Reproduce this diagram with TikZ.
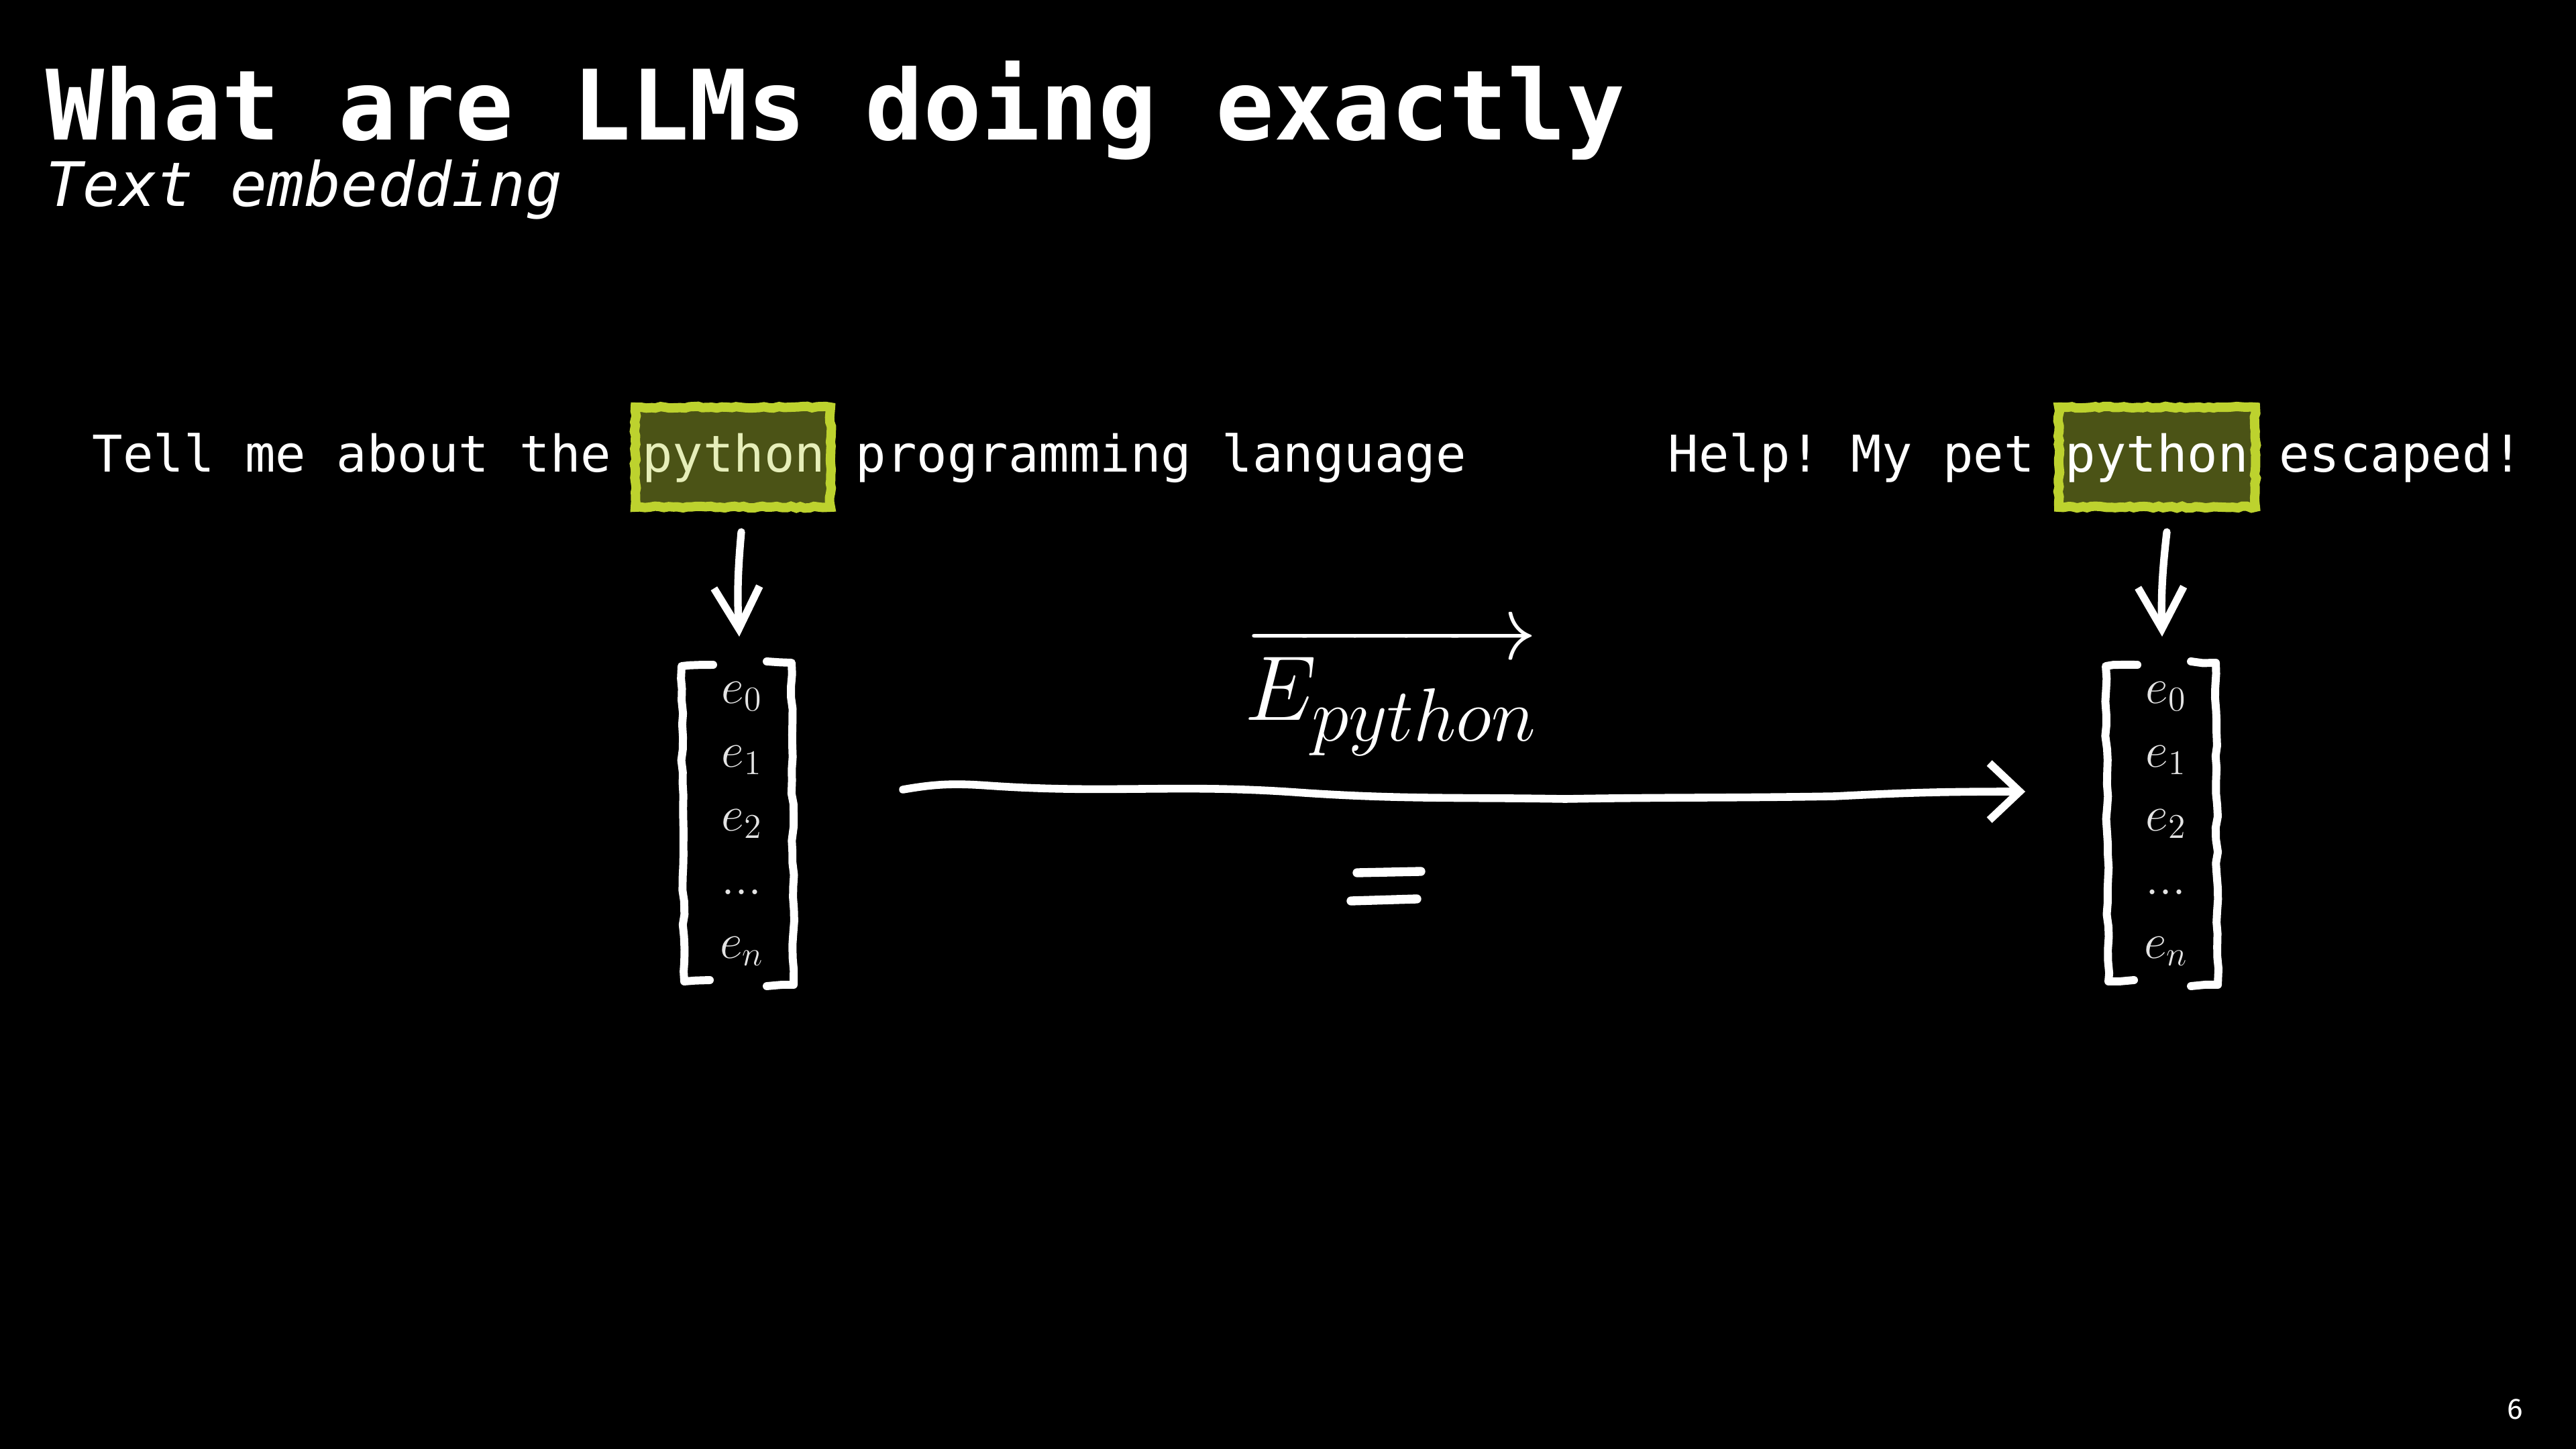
\documentclass[tikz,border=0pt]{standalone}
\usepackage{fix-cm}
\usepackage{fontspec}
\newfontfamily\monof{DejaVu Sans Mono}
\newfontfamily\numf{Fira Sans}
\usetikzlibrary{arrows.meta,calc,decorations.pathmorphing}
\frenchspacing
\definecolor{limeb}{RGB}{189,210,46}
\definecolor{olivef}{RGB}{75,83,22}
\definecolor{palepy}{RGB}{230,238,185}
\definecolor{vecgray}{RGB}{228,228,228}
\tikzset{
  sent/.style={text=white, font=\monof\fontsize{21.5}{26}\selectfont, inner sep=0pt, anchor=base west},
  pybox/.style={draw=limeb, fill=olivef, line width=0.14cm, minimum height=1.49cm, inner sep=0pt,
     decorate, decoration={random steps, segment length=2pt, amplitude=0.4pt}},
  hand/.style={draw=white, line width=3pt, line cap=round, line join=round},
  downarrow/.style={hand, line width=3.2pt, -{Straight Barb[length=0.62cm,width=0.68cm]}},
  bigarrow/.style={hand, line width=3.3pt, -{Straight Barb[length=0.45cm,width=0.85cm]}},
  brk/.style={hand, line width=3.4pt, decorate, decoration={random steps, segment length=5pt, amplitude=0.5pt}},
  vecent/.style={text=vecgray, font=\fontsize{21}{27}\selectfont, align=center, inner sep=0pt},
}
\begin{document}
\begin{tikzpicture}
\pgfmathsetseed{7}
\fill[black] (0,0) rectangle (38.4,-21.6);
\useasboundingbox (0,0) rectangle (38.4,-21.6);

% title
\node[anchor=base west, inner sep=0pt, text=white, font=\monof\bfseries\fontsize{41.2}{48}\selectfont] (title) at (0.68,-2.09) {What are LLMs doing exactly};
\node[anchor=base west, inner sep=0pt, text=white, font=\monof\itshape\fontsize{26}{30}\selectfont] (subtitle) at (0.68,-3.08) {Text embedding};

% boxes
\node[pybox, minimum width=2.91cm] (b1) at (10.925,-6.815) {};
\node[pybox, minimum width=2.93cm] (b2) at (32.155,-6.815) {};

% sentences
\node[sent] (t1) at (1.37,-7.03) {Tell me about the};
\node[sent, text=palepy] (p1) at (9.565,-7.03) {python};
\node[sent] (r1) at (12.75,-7.03) {programming language};
\node[sent] (t2) at (24.86,-7.03) {Help! My pet};
\node[sent] (p2) at (30.78,-7.03) {python};
\node[sent] (r2) at (33.966,-7.03) {escaped!};

% vectors
\node[vecent] (m1) at (11.06,-12.28) {$e_0$\\$e_1$\\$e_2$\\$...$\\$e_n$};
\node[vecent] (m2) at (32.29,-12.28) {$e_0$\\$e_1$\\$e_2$\\$...$\\$e_n$};

% brackets
\foreach \m in {m1,m2}{
  \draw[brk] ($(\m.center)+(-0.43,2.37)$) -- ($(\m.center)+(-0.90,2.35)$) -- ($(\m.center)+(-0.86,-2.35)$) -- ($(\m.center)+(-0.48,-2.33)$);
  \draw[brk] ($(\m.center)+(0.37,2.42)$) -- ($(\m.center)+(0.74,2.40)$) -- ($(\m.center)+(0.77,-2.40)$) -- ($(\m.center)+(0.37,-2.42)$);
}

% down arrows
\draw[downarrow] ([shift={(0.125,-0.30)}]b1.south) to[bend right=4] ([shift={(-0.04,2.79)}]m1.center);
\draw[downarrow] ([shift={(0.145,-0.30)}]b2.south) to[bend right=4] ([shift={(-0.06,2.79)}]m2.center);

% big arrow
\coordinate (hs) at ($(m1.center)+(2.40,0.51)$);
\coordinate (he) at ($(m2.center)+(-2.10,0.48)$);
\coordinate (w1) at (14.72,-11.71);
\coordinate (w2) at (19.31,-11.81);
\coordinate (w3) at (23.33,-11.91);
\coordinate (w4) at (27.35,-11.87);
\draw[bigarrow] (hs) to[out=10,in=176] (w1) to[out=-4,in=176] (w2) to[out=-4,in=179] (w3) to[out=1,in=181] (w4) to[out=3,in=180] (he);

% label
\node[anchor=base west, inner sep=0pt, text=white, font=\fontsize{39}{48}\selectfont] (lab) at (18.55,-10.73) {$\overrightarrow{E_{\raisebox{-3pt}{\fontsize{32}{32}\selectfont$python$}}}$};

% hand-drawn equals
\draw[hand, line width=3.8pt] (20.23,-13.01) -- (21.18,-12.99);
\draw[hand, line width=3.8pt] (20.14,-13.43) -- (21.12,-13.40);

% page number
\node[anchor=base, inner sep=0pt, text=white, font=\numf\fontsize{12.5}{15}\selectfont] (pg) at (37.49,-21.15) {6};
\end{tikzpicture}
\end{document}
